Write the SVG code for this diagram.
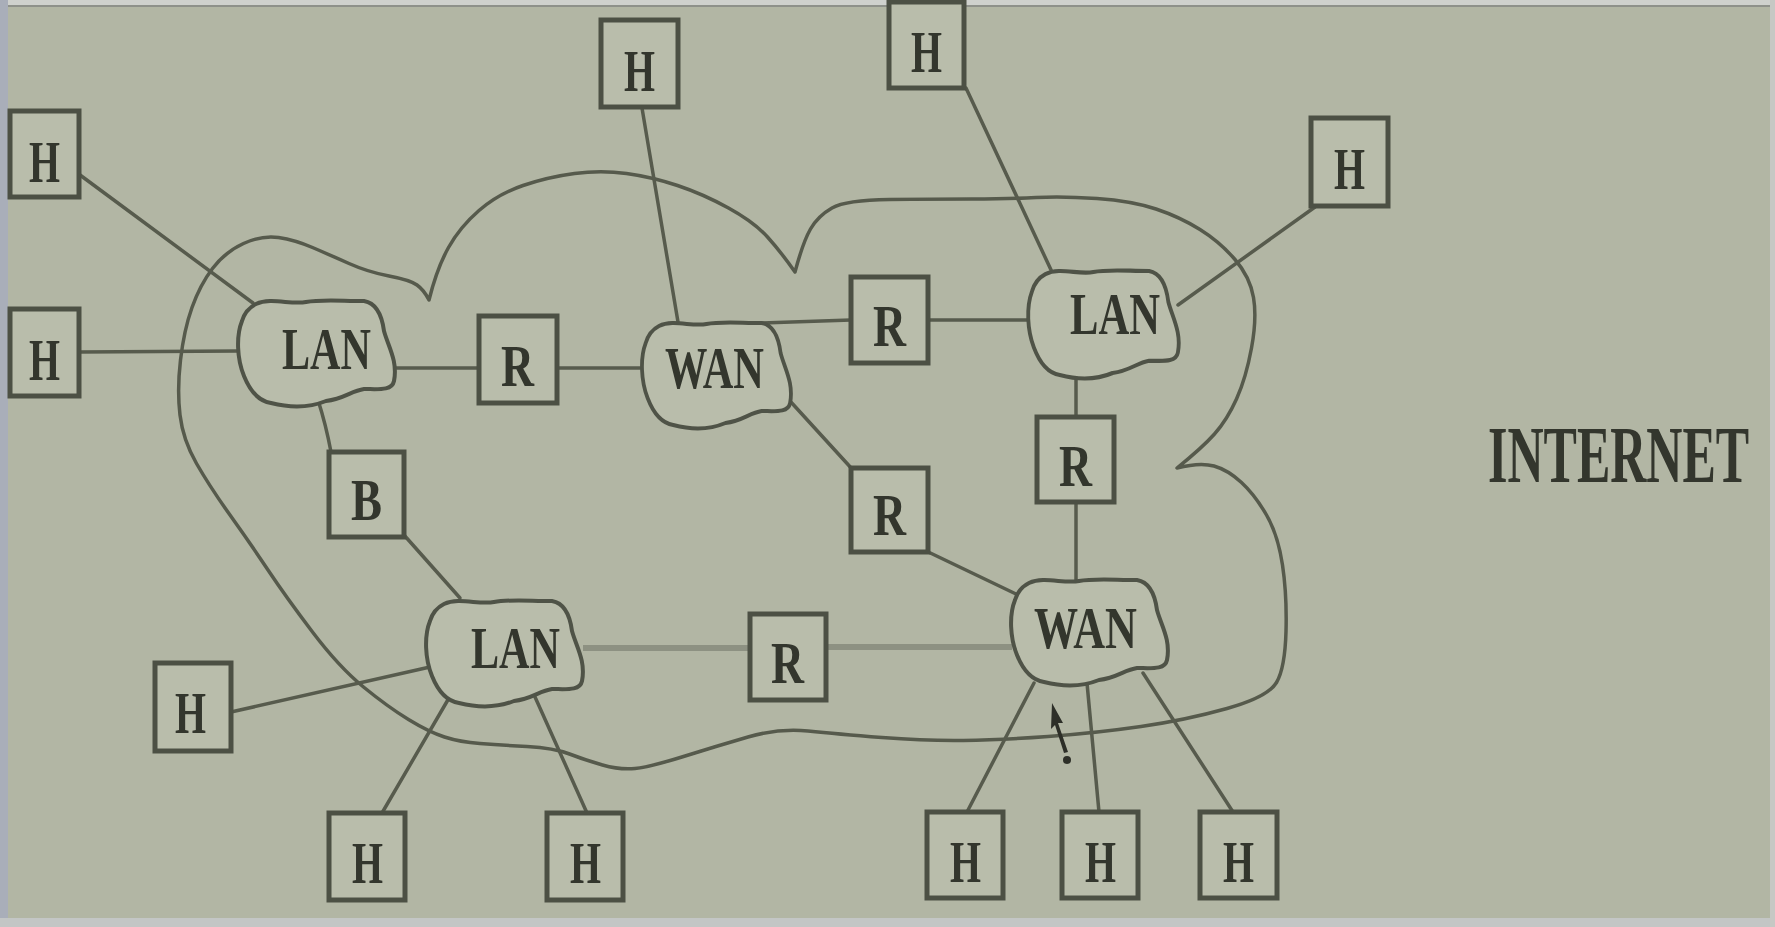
<svg xmlns="http://www.w3.org/2000/svg" width="1775" height="927" viewBox="0 0 1775 927">
  <defs>
    <style>
      .bx { fill: #b9bdab; stroke: #4c5044; stroke-width: 5; }
      .cl { fill: #b9bdab; stroke: #4f5347; stroke-width: 4; stroke-linejoin: round; }
      .t  { font-family: "Liberation Serif", "Times New Roman", serif; font-weight: bold; fill: #33362d; font-size: 60px; }
      .ln { stroke: #575b4d; stroke-width: 3.5; fill: none; stroke-linecap: round; }
      .lt { stroke: #8d9182; stroke-width: 6; fill: none; }
      .bd { fill: none; stroke: #565a4c; stroke-width: 3.5; stroke-linejoin: round; }
    </style>
    <!-- wavy cloud outline used for LAN / WAN nodes, centred on 0,0 -->
    <path id="blob" d="M -60,-47 C -45,-54 -25,-46 -10,-49 C 5,-52 25,-50 48,-50 C 60,-48 66,-35 68,-20 C 72,-5 82,10 78,30 C 76,40 62,38 48,38 C 35,40 28,48 10,50 C -5,56 -25,57 -45,52 C -58,50 -66,40 -72,25 C -79,8 -80,-15 -74,-30 C -71,-40 -66,-44 -60,-47 Z"/>
  </defs>

  <!-- background and frame edges -->
  <rect x="0" y="0" width="1775" height="927" fill="#b2b6a4"/>
  <rect x="0" y="0" width="1775" height="5" fill="#cfd1cd"/>
  <rect x="0" y="5" width="1775" height="2" fill="#8e918a"/>
  <rect x="0" y="0" width="8" height="927" fill="#a9aeb9"/>
  <rect x="0" y="918" width="1775" height="9" fill="#c3c6c5"/>
  <rect x="1770" y="0" width="5" height="927" fill="#c6c8c4"/>

  <!-- internet boundary -->
  <g id="internet-boundary">
    <path class="bd" d="M429,300 Q437,268 448.5,247.5 Q460,227 479,210.5 Q498,194 523,185.5 Q548,177 574.5,173.5 Q601,170 626.5,173.5 Q652,177 677.5,185.5 Q703,194 728.5,208 Q754,222 767.5,237 Q781,252 795,272 Q803,242 810.5,229 Q818,216 832,208 Q846,200 889.5,199.5 Q933,199 971.5,199 Q1010,199 1036,197.5 Q1062,196 1097,198.5 Q1132,201 1156,209 Q1180,217 1200,229.5 Q1220,242 1235,259.5 Q1250,277 1253.5,297.5 Q1257,318 1251.5,348 Q1246,378 1236.5,399 Q1227,420 1214.5,434 Q1202,448 1177,468 Q1200,462 1214,466 Q1228,470 1241.5,482.5 Q1255,495 1266.5,515 Q1278,535 1282.5,565 Q1287,595 1286,631.5 Q1285,668 1276.5,682.5 Q1268,697 1227,708.5 Q1186,720 1141,726.5 Q1096,733 1048,736.5 Q1000,740 963.5,740.5 Q927,741 882,737.5 Q837,734 808,731 Q779,728 748,737 Q717,746 683.5,756.5 Q650,767 635,768.5 Q620,770 602.5,765 Q585,760 569.5,754 Q554,748 527,746.5 Q500,745 480,743.5 Q460,742 444.5,737 Q429,732 408.5,719.5 Q388,707 363.5,687 Q339,667 312.5,632 Q286,597 268,570 Q250,543 230,515 Q210,487 196.5,463.5 Q183,440 180,415 Q177,390 180.5,360 Q184,330 192,307.5 Q200,285 212.5,268.5 Q225,252 243.5,243.5 Q262,235 278.5,237.5 Q295,240 312.5,247.5 Q330,255 349,263.5 Q368,272 389,276 Q410,280 417,285 Q424,290 429,300 Z"/>
  </g>

  <!-- connectors -->
  <g id="connectors">
    <line class="ln" x1="80" y1="175" x2="253" y2="303"/>
    <line class="ln" x1="80" y1="352" x2="238" y2="351"/>
    <line class="ln" x1="392" y1="368" x2="479" y2="368"/>
    <line class="ln" x1="557" y1="368" x2="640" y2="368"/>
    <line class="ln" x1="642" y1="108" x2="678" y2="322"/>
    <line class="ln" x1="735" y1="324" x2="851" y2="320"/>
    <line class="ln" x1="928" y1="320" x2="1027" y2="320"/>
    <line class="ln" x1="966" y1="88" x2="1052" y2="272"/>
    <line class="ln" x1="1315" y1="207" x2="1178" y2="305"/>
    <line class="ln" x1="1076" y1="368" x2="1076" y2="418"/>
    <line class="ln" x1="1076" y1="502" x2="1076" y2="584"/>
    <line class="ln" x1="790" y1="401" x2="853" y2="470"/>
    <line class="ln" x1="922" y1="549" x2="1016" y2="594"/>
    <line class="lt" x1="583" y1="648" x2="750" y2="648"/>
    <line class="lt" x1="826" y1="647" x2="1012" y2="647"/>
    <path class="ln" d="M318,400 Q326,425 331,452"/>
    <line class="ln" x1="404" y1="535" x2="460" y2="598"/>
    <line class="ln" x1="231" y1="712" x2="430" y2="667"/>
    <line class="ln" x1="449" y1="698" x2="382" y2="813"/>
    <line class="ln" x1="531" y1="688" x2="587" y2="813"/>
    <line class="ln" x1="1034" y1="683" x2="967" y2="812"/>
    <line class="ln" x1="1087" y1="683" x2="1099" y2="812"/>
    <line class="ln" x1="1143" y1="673" x2="1233" y2="812"/>
  </g>

  <!-- networks -->
  <g id="lan-west">
    <use href="#blob" class="cl" transform="translate(316,351)"/>
    <text class="t" x="282" y="369" textLength="89" lengthAdjust="spacingAndGlyphs">LAN</text>
  </g>
  <g id="wan-north">
    <use href="#blob" class="cl" transform="translate(716,373) scale(0.95,1)"/>
    <text class="t" x="665" y="388" textLength="99" lengthAdjust="spacingAndGlyphs">WAN</text>
  </g>
  <g id="lan-east">
    <use href="#blob" class="cl" transform="translate(1103,322) scale(0.96,1.02)"/>
    <text class="t" x="1070" y="334" textLength="90" lengthAdjust="spacingAndGlyphs">LAN</text>
  </g>
  <g id="lan-south">
    <use href="#blob" class="cl" transform="translate(504,651)"/>
    <text class="t" x="471" y="668" textLength="89" lengthAdjust="spacingAndGlyphs">LAN</text>
  </g>
  <g id="wan-south">
    <use href="#blob" class="cl" transform="translate(1089,630)"/>
    <text class="t" x="1034" y="648" textLength="103" lengthAdjust="spacingAndGlyphs">WAN</text>
  </g>

  <!-- routers and bridge -->
  <g id="r1"><rect class="bx" x="479" y="316" width="78" height="87"/><text class="t" x="501" y="386" textLength="33" lengthAdjust="spacingAndGlyphs">R</text></g>
  <g id="r2"><rect class="bx" x="851" y="277" width="77" height="86"/><text class="t" x="873" y="346" textLength="33" lengthAdjust="spacingAndGlyphs">R</text></g>
  <g id="r3"><rect class="bx" x="1037" y="417" width="77" height="85"/><text class="t" x="1059" y="486" textLength="33" lengthAdjust="spacingAndGlyphs">R</text></g>
  <g id="r4"><rect class="bx" x="851" y="468" width="77" height="84"/><text class="t" x="873" y="535" textLength="33" lengthAdjust="spacingAndGlyphs">R</text></g>
  <g id="r5"><rect class="bx" x="750" y="614" width="76" height="86"/><text class="t" x="771" y="683" textLength="33" lengthAdjust="spacingAndGlyphs">R</text></g>
  <g id="b1"><rect class="bx" x="329" y="452" width="75" height="85"/><text class="t" x="351" y="520" textLength="31" lengthAdjust="spacingAndGlyphs">B</text></g>

  <!-- hosts -->
  <g id="h1"><rect class="bx" x="10" y="111" width="69" height="86"/><text class="t" x="29" y="182" textLength="31" lengthAdjust="spacingAndGlyphs">H</text></g>
  <g id="h2"><rect class="bx" x="10" y="309" width="69" height="87"/><text class="t" x="29" y="380" textLength="31" lengthAdjust="spacingAndGlyphs">H</text></g>
  <g id="h3"><rect class="bx" x="601" y="20" width="77" height="87"/><text class="t" x="624" y="91" textLength="31" lengthAdjust="spacingAndGlyphs">H</text></g>
  <g id="h4"><rect class="bx" x="889" y="2" width="75" height="86"/><text class="t" x="911" y="72" textLength="31" lengthAdjust="spacingAndGlyphs">H</text></g>
  <g id="h5"><rect class="bx" x="1311" y="118" width="77" height="88"/><text class="t" x="1334" y="189" textLength="31" lengthAdjust="spacingAndGlyphs">H</text></g>
  <g id="h6"><rect class="bx" x="155" y="663" width="76" height="88"/><text class="t" x="175" y="733" textLength="31" lengthAdjust="spacingAndGlyphs">H</text></g>
  <g id="h7"><rect class="bx" x="329" y="813" width="76" height="87"/><text class="t" x="352" y="883" textLength="31" lengthAdjust="spacingAndGlyphs">H</text></g>
  <g id="h8"><rect class="bx" x="547" y="813" width="76" height="87"/><text class="t" x="570" y="883" textLength="31" lengthAdjust="spacingAndGlyphs">H</text></g>
  <g id="h9"><rect class="bx" x="927" y="812" width="76" height="86"/><text class="t" x="950" y="882" textLength="31" lengthAdjust="spacingAndGlyphs">H</text></g>
  <g id="h10"><rect class="bx" x="1062" y="812" width="76" height="86"/><text class="t" x="1085" y="882" textLength="31" lengthAdjust="spacingAndGlyphs">H</text></g>
  <g id="h11"><rect class="bx" x="1200" y="812" width="77" height="86"/><text class="t" x="1223" y="882" textLength="31" lengthAdjust="spacingAndGlyphs">H</text></g>

  <!-- pointer arrow near the southern WAN -->
  <g id="cursor" fill="#2d2f28">
    <path d="M1052,703 L1063,723 L1058,723 L1068,752 L1064,753 L1055,725 L1051,729 Z"/>
    <circle cx="1067" cy="760" r="4"/>
  </g>

  <!-- caption: tall narrow lettering via a vertical stretch -->
  <g id="caption" transform="translate(1488,482) scale(1,1.6)">
    <text class="t" x="0" y="0" style="font-size:50px">INTERNET</text>
  </g>
</svg>
